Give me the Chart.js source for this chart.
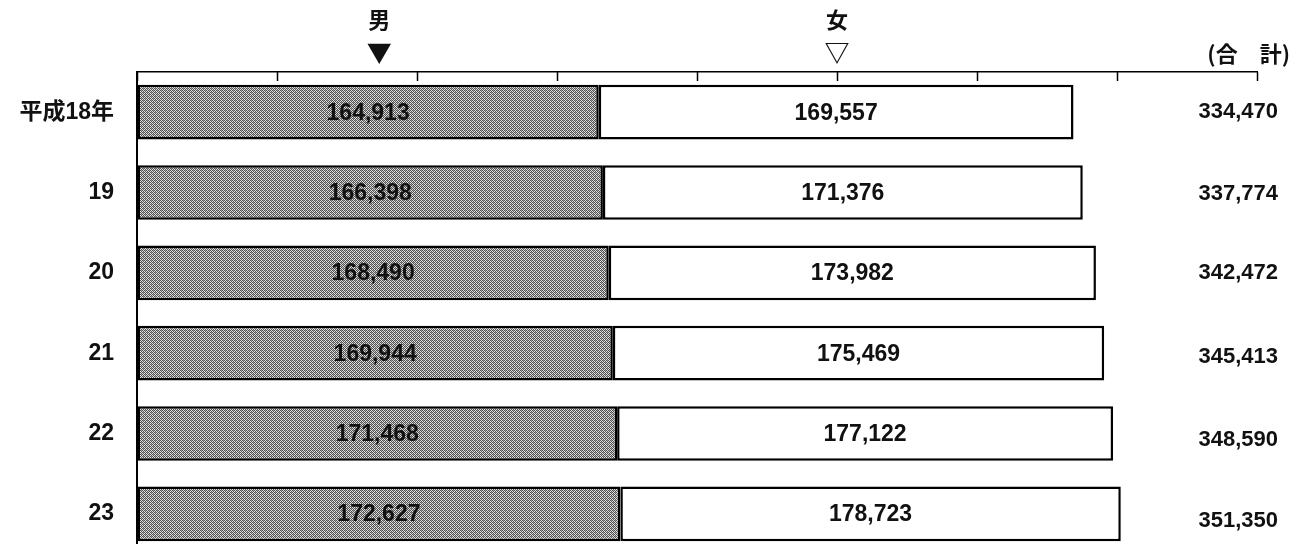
<!DOCTYPE html>
<html>
<head>
<meta charset="utf-8">
<script src="https://cdn.jsdelivr.net/npm/chart.js@4/dist/chart.umd.min.js"></script>
<style>
  html, body { margin: 0; padding: 0; background: #fff; overflow: hidden; }
  #wrap { width: 1307px; height: 560px; }
</style>
</head>
<body>
<div id="wrap"><canvas id="c" width="1307" height="560"></canvas></div>
<script>
// ---- data ----
const categories = ["平成18年", "19", "20", "21", "22", "23"];
const maleValues = [164913, 166398, 168490, 169944, 171468, 172627];
const femaleValues = [169557, 171376, 173982, 175469, 177122, 178723];
const totalValues = [334470, 337774, 342472, 345413, 348590, 351350];
const seriesNames = ["男", "女"];
const seriesMarkers = ["▼", "▽"];
const headerValues = [86500, 250000];   // x-axis value where each series heading sits
const totalHeader = "(合　計)";
const axisMax = 400000;
const axisStep = 50000;

const FONT = '"Liberation Sans", "Noto Sans CJK JP", sans-serif';
const CJK = '"Noto Sans CJK JP", "Liberation Sans", sans-serif';

// dithered grey fill for the male bars
function makePattern() {
  const p = document.createElement('canvas');
  p.width = 4; p.height = 4;
  const g = p.getContext('2d');
  g.fillStyle = '#e2e2e2';
  g.fillRect(0, 0, 4, 4);
  g.fillStyle = '#505050';
  for (let y = 0; y < 4; y++) {
    for (let x = 0; x < 4; x++) {
      if ((x + y) % 2 === 0) g.fillRect(x, y, 1, 1);
    }
  }
  g.fillStyle = '#a0a0a0';
  g.fillRect(1, 2, 1, 1);
  g.fillRect(3, 0, 1, 1);
  return g.createPattern(p, 'repeat');
}
const malePattern = makePattern();

const fmt = v => v.toLocaleString('en-US');
const totalNudge = [0, 1, 0, 4, 6, 7];

const annotPlugin = {
  id: 'annot',
  afterDatasetsDraw(chart) {
    const ctx = chart.ctx;
    const xs = chart.scales.x;
    const ys = chart.scales.y;
    const area = chart.chartArea;
    ctx.save();
    // inward tick marks on the top axis
    ctx.strokeStyle = '#000';
    ctx.lineWidth = 1.5;
    xs.ticks.forEach(t => {
      const px = Math.round(xs.getPixelForValue(t.value)) + 0.5;
      ctx.beginPath();
      ctx.moveTo(px, area.top);
      ctx.lineTo(px, area.top + 9);
      ctx.stroke();
    });
    // value labels inside bars
    ctx.fillStyle = '#111';
    ctx.textAlign = 'center';
    ctx.textBaseline = 'middle';
    ctx.font = 'bold 23px ' + FONT;
    chart.data.datasets.forEach((ds, di) => {
      const meta = chart.getDatasetMeta(di);
      meta.data.forEach((el, i) => {
        const cx = (el.x + el.base) / 2;
        ctx.fillText(fmt(ds.data[i]), cx, el.y + 1);
      });
    });
    // totals on the right
    ctx.textAlign = 'right';
    ctx.font = 'bold 22px ' + FONT;
    totalValues.forEach((v, i) => {
      const y = ys.getPixelForValue(i);
      ctx.fillText(fmt(v), area.right + 21, y + totalNudge[i]);
    });
    // headings
    ctx.textAlign = 'center';
    seriesNames.forEach((n, i) => {
      const px = xs.getPixelForValue(headerValues[i]);
      ctx.font = 'bold 22px ' + CJK;
      ctx.fillText(n, px, 20);
      ctx.font = 'bold 25px ' + CJK;
      ctx.fillText(seriesMarkers[i], px, 52);
    });
    ctx.textAlign = 'right';
    ctx.font = 'bold 22px ' + CJK;
    ctx.fillText(totalHeader, area.right + 33, 54);
    ctx.restore();
  }
};

new Chart(document.getElementById('c'), {
  type: 'bar',
  data: {
    labels: categories,
    datasets: [
      {
        label: seriesNames[0],
        data: maleValues,
        backgroundColor: malePattern,
        borderColor: '#000',
        borderWidth: 2.5,
        borderSkipped: false,
        categoryPercentage: 1,
        barPercentage: 0.68
      },
      {
        label: seriesNames[1],
        data: femaleValues,
        backgroundColor: '#fff',
        borderColor: '#000',
        borderWidth: 2.5,
        borderSkipped: false,
        categoryPercentage: 1,
        barPercentage: 0.68
      }
    ]
  },
  options: {
    indexAxis: 'y',
    responsive: false,
    animation: false,
    devicePixelRatio: 1,
    layout: { padding: { top: 72, right: 50, bottom: 6, left: 0 } },
    plugins: { legend: { display: false }, tooltip: { enabled: false }, title: { display: false } },
    scales: {
      x: {
        type: 'linear',
        position: 'top',
        stacked: true,
        min: 0,
        max: axisMax,
        ticks: { display: false, stepSize: axisStep },
        grid: { display: true, drawOnChartArea: false, drawTicks: false },
        border: { display: true, color: '#000', width: 1.5 },
        afterFit(s) { s.height = 0; s.paddingLeft = 0; s.paddingRight = 0; }
      },
      y: {
        type: 'category',
        stacked: true,
        ticks: {
          color: '#111',
          padding: 23,
          font: { family: FONT, size: 23, weight: 'bold' }
        },
        grid: { display: true, drawOnChartArea: false, drawTicks: false },
        border: { display: true, color: '#000', width: 2 },
        afterFit(s) { s.width = 137; s.paddingTop = 0; s.paddingBottom = 0; }
      }
    }
  },
  plugins: [annotPlugin]
});
</script>
</body>
</html>
